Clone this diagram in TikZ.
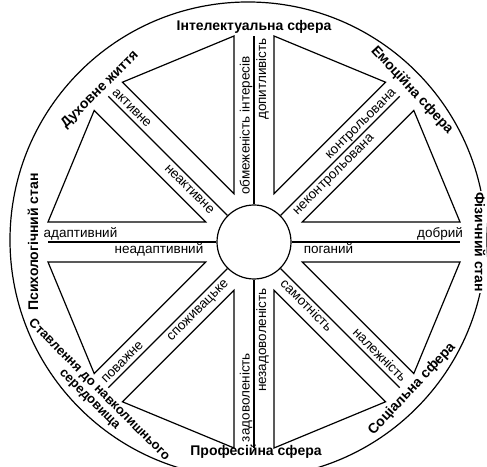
\documentclass[tikz,border=0pt]{standalone}
\usepackage{fontspec}
\setmainfont{Liberation Sans}
\usetikzlibrary{calc}
\begin{document}
\begin{tikzpicture}[x=1pt,y=1pt,
  edge/.style={line width=1.2pt},
  outerlbl/.style={font=\fontsize{14}{16}\selectfont\bfseries, inner sep=1pt},
  envlbl/.style={font=\fontsize{13}{15}\selectfont\bfseries, inner sep=1pt, rotate=-45},
  spokelbl/.style={font=\fontsize{13.5}{15}\selectfont, inner sep=0pt, anchor=base}]
\useasboundingbox (0,0) rectangle (487,466);
\clip (0,0) rectangle (487,466);
\fill[white] (0,0) rectangle (487,466);
\coordinate (O) at (254,224);
\coordinate (C) at (248,226);
% outer rim
\draw[edge] (C) circle[radius=238];
% hub
\node[draw, circle, minimum size=74pt, inner sep=0pt, line width=1.2pt] (hub) at (O) {};
% spokes (middle lines)
\foreach \an in {0,45,...,315}{
  \coordinate (end\an) at ($(O)+(\an:206pt)$);
  \draw[edge] (hub.\an) -- (end\an);
}
% triangles between spokes
\foreach \an in {0,45,...,315}{
  \coordinate (ta\an) at ($(O)+(\an:206pt)+(\an+90:20pt)$);
  \coordinate (tb\an) at ($(O)+(\an+45:206pt)+(\an-45:20pt)$);
  \coordinate (tc\an) at ($(O)+(\an+22.5:52.26pt)$);
  \draw[edge, line join=miter] (ta\an) -- (tb\an) -- (tc\an) -- cycle;
}
% spoke labels
\foreach \spA/\spR/\spT/\spS/\spX/\spN in {
  180/0/173.5/4.5/адаптивний/la,
  180/0/95/-12/неадаптивний/lb,
  0/0/186/4.5/добрий/ra,
  0/0/74.5/-12/поганий/rb,
  90/90/116.5/4.5/обмеженість інтересів/ta,
  90/90/163/-12/допитливість/tb,
  270/90/155.5/4.5/задоволеність/ba,
  270/90/98/-12/незадоволеність/bb,
  135/-45/181/4.5/активне/nwa,
  135/-45/83/-12/неактивне/nwb,
  45/45/159/4.5/контрольована/nea,
  45/45/104/-12/неконтрольована/neb,
  315/-45/169/4.5/належність/sea,
  315/-45/82/-12/самотність/seb,
  225/45/178/4.5/поважне/swa,
  225/45/88/-12/споживацьке/swb}{
  \node[spokelbl, rotate=\spR] (\spN) at ($(O)+(\spA:\spT pt)+(\spR+90:\spS pt)$) {\spX};
}
% rim labels
\node[outerlbl] (intel) at (254,439) {Інтелектуальна сфера};
\node[outerlbl, rotate=-47] (emo) at (412,376) {Емоційна сфера};
\node[outerlbl, rotate=-90, fill=white] (phys) at (480,224) {Фізичний стан};
\node[outerlbl, rotate=47] (soc) at (412,77) {Соціальна сфера};
\node[outerlbl] (prof) at (256,14) {Професійна сфера};
\node[envlbl] (env1) at (99,76) {Ставлення до навколишнього};
\node[envlbl] (env2) at (89,66) {середовища};
\node[outerlbl, rotate=90] (psy) at (33,224) {Психологічний стан};
\node[outerlbl, rotate=45] (spir) at (100,376) {Духовне життя};
\end{tikzpicture}
\end{document}
